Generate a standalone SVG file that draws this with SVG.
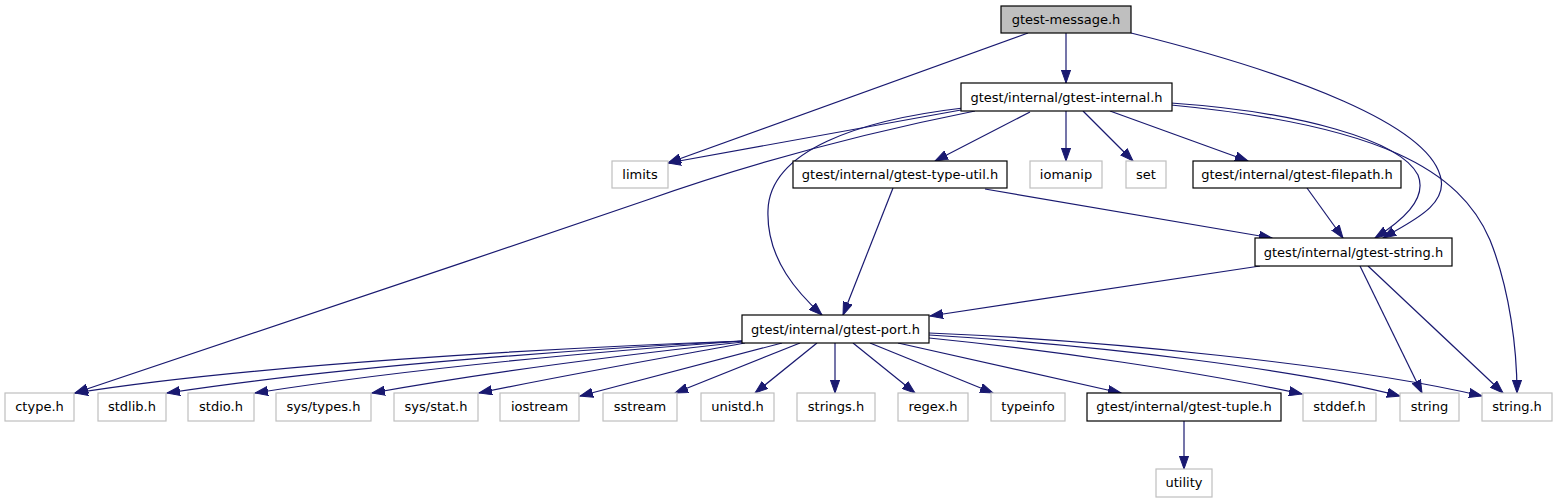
<svg xmlns="http://www.w3.org/2000/svg" width="1557" height="504" viewBox="0 0 1557 504">
<style>
.n rect{fill:#ffffff;stroke:#000000;stroke-width:1.2}
.g rect{fill:#ffffff;stroke:#bfbfbf;stroke-width:1.2}
.m rect{fill:#bfbfbf;stroke:#000000;stroke-width:1.2}
text{font-family:"DejaVu Sans","Liberation Sans",sans-serif;font-size:13px;fill:#000000;text-anchor:middle}
#edges path{fill:none;stroke:#191970;stroke-width:1.2;marker-end:url(#a)}
</style>
<defs>
<marker id="a" markerWidth="14" markerHeight="10" refX="13" refY="5" orient="auto" markerUnits="userSpaceOnUse">
<path d="M0,0.4 L13,5 L0,9.6 z" fill="#191970" stroke="#191970" stroke-width="1"/>
</marker>
</defs>
<rect width="1557" height="504" fill="#ffffff"/>
<g id="edges">
<path d="M1066,33 L1066,83"/>
<path d="M1028,33 L668,163"/>
<path d="M1131,33 C1300,75 1425,125 1440,175 C1450,205 1410,222 1383,238"/>
<path d="M961,110 L668,163"/>
<path d="M975,111 C880,130 760,160 647,200 C450,268 200,350 75,393"/>
<path d="M963,108 C860,120 770,150 768,210 C766,260 800,295 822,315"/>
<path d="M1030,112 L935,161"/>
<path d="M1066,111 L1066,161"/>
<path d="M1083,111 L1133,161"/>
<path d="M1110,111 L1248,161"/>
<path d="M1171,103 C1300,112 1400,140 1418,175 C1428,200 1400,222 1375,238"/>
<path d="M1171,105 C1380,125 1460,170 1490,240 C1510,290 1517,350 1517,393"/>
<path d="M893,188 L843,315"/>
<path d="M985,189 L1272,238"/>
<path d="M1307,188 L1343,238"/>
<path d="M1260,266 L930,316"/>
<path d="M1360,266 L1422,393"/>
<path d="M1368,266 L1503,393"/>
<path d="M743,341 C550,348 250,365 75,393"/>
<path d="M743,341 C600,348 350,365 167,393"/>
<path d="M743,341 C620,350 420,367 255,393"/>
<path d="M743,342 C650,352 500,370 372,393"/>
<path d="M745,343 C680,355 570,374 479,393"/>
<path d="M782,343 L580,396"/>
<path d="M800,343 L675,393"/>
<path d="M817,343 L755,393"/>
<path d="M835,343 L835,393"/>
<path d="M853,343 L915,393"/>
<path d="M870,343 L993,393"/>
<path d="M898,343 L1121,393"/>
<path d="M929,338 C1050,350 1200,372 1302,394"/>
<path d="M929,335 C1100,345 1300,370 1400,396"/>
<path d="M929,333 C1100,340 1350,365 1482,396"/>
<path d="M1184,421 L1184,469"/>
</g>
<g id="gtest-message" class="m"><rect x="1001" y="6" width="130" height="27"/><text x="1066" y="24">gtest-message.h</text></g>
<g id="gtest-internal" class="n"><rect x="961" y="83" width="211" height="28"/><text x="1066.5" y="102">gtest/internal/gtest-internal.h</text></g>
<g id="limits" class="g"><rect x="612" y="161" width="56" height="27"/><text x="640" y="179">limits</text></g>
<g id="gtest-type-util" class="n"><rect x="793" y="161" width="214" height="27"/><text x="900" y="179">gtest/internal/gtest-type-util.h</text></g>
<g id="iomanip" class="g"><rect x="1030" y="161" width="72" height="27"/><text x="1066" y="179">iomanip</text></g>
<g id="set" class="g"><rect x="1126" y="161" width="40" height="27"/><text x="1146" y="179">set</text></g>
<g id="gtest-filepath" class="n"><rect x="1193" y="161" width="208" height="27"/><text x="1297" y="179">gtest/internal/gtest-filepath.h</text></g>
<g id="gtest-string" class="n"><rect x="1255" y="238" width="197" height="28"/><text x="1353.5" y="257">gtest/internal/gtest-string.h</text></g>
<g id="gtest-port" class="n"><rect x="742" y="315" width="187" height="28"/><text x="835.5" y="334">gtest/internal/gtest-port.h</text></g>
<g id="ctype" class="g"><rect x="5" y="393" width="69" height="28"/><text x="39.5" y="411">ctype.h</text></g>
<g id="stdlib" class="g"><rect x="98" y="393" width="68" height="28"/><text x="132" y="411">stdlib.h</text></g>
<g id="stdio" class="g"><rect x="188" y="393" width="66" height="28"/><text x="221" y="411">stdio.h</text></g>
<g id="sys-types" class="g"><rect x="276" y="393" width="95" height="28"/><text x="323.5" y="411">sys/types.h</text></g>
<g id="sys-stat" class="g"><rect x="394" y="393" width="84" height="28"/><text x="436" y="411">sys/stat.h</text></g>
<g id="iostream" class="g"><rect x="500" y="393" width="79" height="28"/><text x="539.5" y="411">iostream</text></g>
<g id="sstream" class="g"><rect x="603" y="393" width="74" height="28"/><text x="640" y="411">sstream</text></g>
<g id="unistd" class="g"><rect x="701" y="393" width="73" height="28"/><text x="737.5" y="411">unistd.h</text></g>
<g id="strings" class="g"><rect x="797" y="393" width="78" height="28"/><text x="836" y="411">strings.h</text></g>
<g id="regex" class="g"><rect x="898" y="393" width="70" height="28"/><text x="933" y="411">regex.h</text></g>
<g id="typeinfo" class="g"><rect x="991" y="393" width="74" height="28"/><text x="1028" y="411">typeinfo</text></g>
<g id="gtest-tuple" class="n"><rect x="1087" y="393" width="194" height="28"/><text x="1184" y="411">gtest/internal/gtest-tuple.h</text></g>
<g id="stddef" class="g"><rect x="1303" y="393" width="73" height="28"/><text x="1339.5" y="411">stddef.h</text></g>
<g id="string" class="g"><rect x="1400" y="393" width="59" height="28"/><text x="1429.5" y="411">string</text></g>
<g id="string-h" class="g"><rect x="1482" y="393" width="70" height="28"/><text x="1517" y="411">string.h</text></g>
<g id="utility" class="g"><rect x="1156" y="469" width="56" height="28"/><text x="1184" y="487">utility</text></g>
</svg>
